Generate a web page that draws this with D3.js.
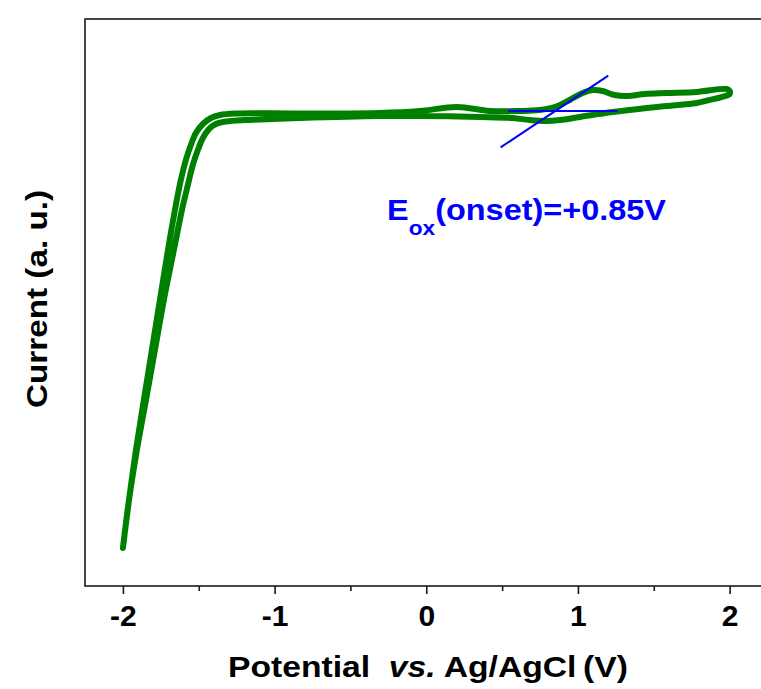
<!DOCTYPE html>
<html>
<head>
<meta charset="utf-8">
<script src="https://cdn.jsdelivr.net/npm/d3@7"></script>
<style>
  html, body { margin: 0; padding: 0; background: #fff; }
  svg { display: block; }
  text { font-family: "Liberation Sans", Arial, sans-serif; font-weight: bold; }
</style>
</head>
<body>
<svg id="chart" width="761" height="689"></svg>
<script>
// Cyclic voltammogram: forward scan (-2 V -> +2 V) and reverse scan (+2 V -> -2 V)
const forwardV = [-2.000, -1.960, -1.914, -1.862, -1.809, -1.756, -1.703, -1.657, -1.618, -1.585,
  -1.552, -1.519, -1.473, -1.420, -1.361, -1.262, -0.834, -0.306, -0.043, 0.201,
  0.418, 0.616, 0.748, 0.847, 0.945, 1.031, 1.097, 1.163, 1.242, 1.328,
  1.440, 1.585, 1.783, 1.980, 2.000];
const forwardI = [-4.138, -3.681, -3.205, -2.729, -2.252, -1.776, -1.300, -0.919, -0.633, -0.443,
  -0.300, -0.186, -0.100, -0.043, -0.014, 0.000, 0.000, 0.005, 0.024, 0.062,
  0.024, 0.024, 0.033, 0.062, 0.129, 0.195, 0.224, 0.214, 0.176, 0.167,
  0.186, 0.195, 0.205, 0.233, 0.214];

const reverseV = [2.000, 1.947, 1.868, 1.783, 1.585, 1.453, 1.229, 1.012, 0.880, 0.794,
  0.682, 0.570, 0.353, -0.043, -0.306, -0.834, -1.097, -1.196, -1.321, -1.387,
  -1.433, -1.473, -1.506, -1.539, -1.572, -1.611, -1.664, -1.730, -1.789, -1.848,
  -1.908, -1.960, -2.000];
const reverseI = [0.186, 0.157, 0.129, 0.100, 0.071, 0.052, 0.014, -0.033, -0.062, -0.071,
  -0.062, -0.043, -0.033, -0.024, -0.024, -0.043, -0.057, -0.062, -0.076, -0.100,
  -0.148, -0.233, -0.348, -0.490, -0.681, -0.919, -1.300, -1.776, -2.252, -2.729,
  -3.205, -3.681, -4.138];

// Onset construction: baseline and tangent to the rising oxidation wave
const onsetV = 0.85;
const baselineI = 0.024;
const tangentSlope = 0.963;
const baselineRange = [0.54, 1.26];
const tangentRange = [0.49, 1.20];

const majorTicks = [-2, -1, 0, 1, 2];
const minorTicks = [-1.5, -0.5, 0.5, 1.5];
const xDomain = [-2.25, 2.22];
const yDomain = [-4.5, 0.9];

const svg = d3.select("#chart");
const plot = { left: 85, right: 763, top: 19, bottom: 586 };

const x = d3.scaleLinear().domain(xDomain).range([plot.left, plot.right]);
const y = d3.scaleLinear().domain(yDomain).range([plot.bottom, plot.top]);

// Curve
const loop = forwardV.map((v, i) => [v, forwardI[i]])
  .concat(reverseV.slice(1).map((v, i) => [v, reverseI[i + 1]]));
loop.splice(forwardV.length, 0, [reverseV[0], reverseI[0]]);
const line = d3.line().x(d => x(d[0])).y(d => y(d[1])).curve(d3.curveCatmullRom.alpha(0.5));

svg.append("path")
  .attr("d", line(loop))
  .attr("fill", "none")
  .attr("stroke", "#008000")
  .attr("stroke-width", 6)
  .attr("stroke-linecap", "round")
  .attr("stroke-linejoin", "round");

// Onset lines
const baseLine = baselineRange.map(v => [v, baselineI]);
const tanLine = tangentRange.map(v => [v, baselineI + tangentSlope * (v - onsetV)]);
const straight = d3.line().x(d => x(d[0])).y(d => y(d[1]));
[baseLine, tanLine].forEach(seg => {
  svg.append("path")
    .attr("d", straight(seg))
    .attr("stroke", "#0000ff")
    .attr("stroke-width", 2)
    .attr("fill", "none");
});

// Frame
svg.append("rect")
  .attr("x", plot.left).attr("y", plot.top)
  .attr("width", plot.right - plot.left).attr("height", plot.bottom - plot.top)
  .attr("fill", "none").attr("stroke", "#1a1a1a").attr("stroke-width", 1.6);

// Bottom axis ticks
const axis = d3.axisBottom(x).tickValues(majorTicks).tickSize(8).tickPadding(11)
  .tickFormat(d => String(d));
const gx = svg.append("g").attr("transform", `translate(0,${plot.bottom})`).call(axis);
gx.select(".domain").remove();
gx.selectAll(".tick line").attr("stroke", "#1a1a1a").attr("stroke-width", 1.6);
gx.selectAll(".tick text")
  .attr("fill", "#000")
  .style("font-size", "30px")
  .style("font-family", "'Liberation Sans', Arial, sans-serif")
  .style("font-weight", "bold");

const minorAxis = d3.axisBottom(x).tickValues(minorTicks).tickSize(5).tickFormat("");
const gm = svg.append("g").attr("transform", `translate(0,${plot.bottom})`).call(minorAxis);
gm.select(".domain").remove();
gm.selectAll(".tick line").attr("stroke", "#1a1a1a").attr("stroke-width", 1.6);

// Axis titles
const xt = svg.append("text")
  .attr("x", 428).attr("y", 677)
  .attr("text-anchor", "middle")
  .style("font-size", "30px")
  .attr("textLength", 400).attr("lengthAdjust", "spacingAndGlyphs");
xt.append("tspan").text("Potential\u00a0 ");
xt.append("tspan").style("font-style", "italic").text("vs.");
xt.append("tspan").text(" Ag/AgCl\u2009(V)");

svg.append("text")
  .attr("transform", "translate(47,299) rotate(-90)")
  .attr("text-anchor", "middle")
  .style("font-size", "30px")
  .attr("textLength", 218).attr("lengthAdjust", "spacingAndGlyphs")
  .text("Current (a. u.)");

// Onset annotation
const ann = svg.append("text")
  .attr("x", 387).attr("y", 220)
  .attr("fill", "#0000ff")
  .style("font-size", "30px")
  .attr("textLength", 279).attr("lengthAdjust", "spacingAndGlyphs");
ann.append("tspan").text("E");
ann.append("tspan").attr("dy", 15).style("font-size", "21px").text("ox");
ann.append("tspan").attr("dy", -15).text("(onset)=+" + onsetV.toFixed(2) + "V");
</script>
</body>
</html>
